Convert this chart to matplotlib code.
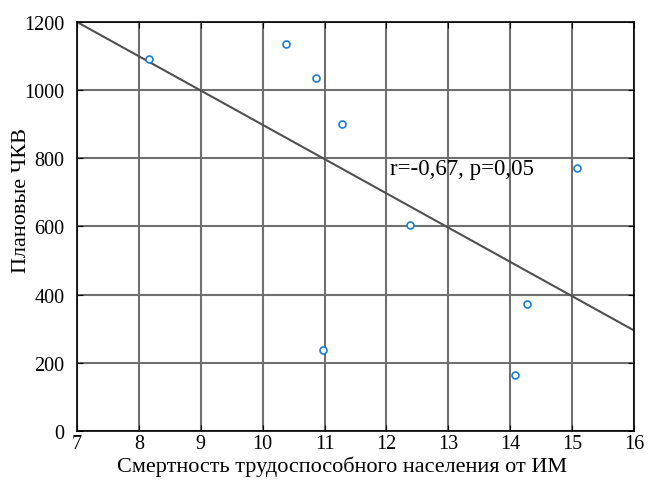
import numpy as np
import matplotlib.pyplot as plt

plt.rcParams['font.family'] = ['Liberation Serif', 'DejaVu Serif']

# points
mortality = [8.17, 10.38, 10.86, 11.28, 12.38, 10.97, 14.27, 14.08, 15.08]
planned_pci = [1090, 1135, 1036, 901, 604, 238, 373, 164, 772]

# regression line end points
line_x = [7, 16]
line_y = [1200, 295]

fig = plt.figure(figsize=(6.48, 4.81), dpi=100)
ax = fig.add_axes([0.1188, 0.1019, 0.8596, 0.8503])

ax.grid(True, color='#707070', linewidth=1.5, linestyle='-')
ax.set_axisbelow(True)
ax.plot(line_x, line_y, color='#505050', linewidth=1.5)
ax.plot(mortality, planned_pci, 'o', markerfacecolor='white',
        markeredgecolor='#1a7fd4', markersize=5, markeredgewidth=1.2)

ax.text(12.06, 769, 'r=-0,67, p=0,05', fontsize=16.5, va='center', ha='left')

ax.set_xlim(7, 16)
ax.set_ylim(0, 1200)
ax.set_xticks(np.arange(7, 17, 1))
ax.set_yticks(np.arange(0, 1201, 200))
ax.tick_params(direction='in', top=True, right=True, labelsize=14.5, length=4)
ax.tick_params(axis='y', pad=9)
ax.tick_params(axis='x', pad=2)
for s in ax.spines.values():
    s.set_linewidth(1.2)
    s.set_color('black')

ax.set_xlabel('Смертность трудоспособного населения от ИМ', fontsize=16)
ax.set_ylabel('Плановые ЧКВ', fontsize=16)
ax.xaxis.set_label_coords(0.476, -0.061)
ax.yaxis.set_label_coords(-0.083, 0.567)

plt.savefig('out.png', dpi=100)
